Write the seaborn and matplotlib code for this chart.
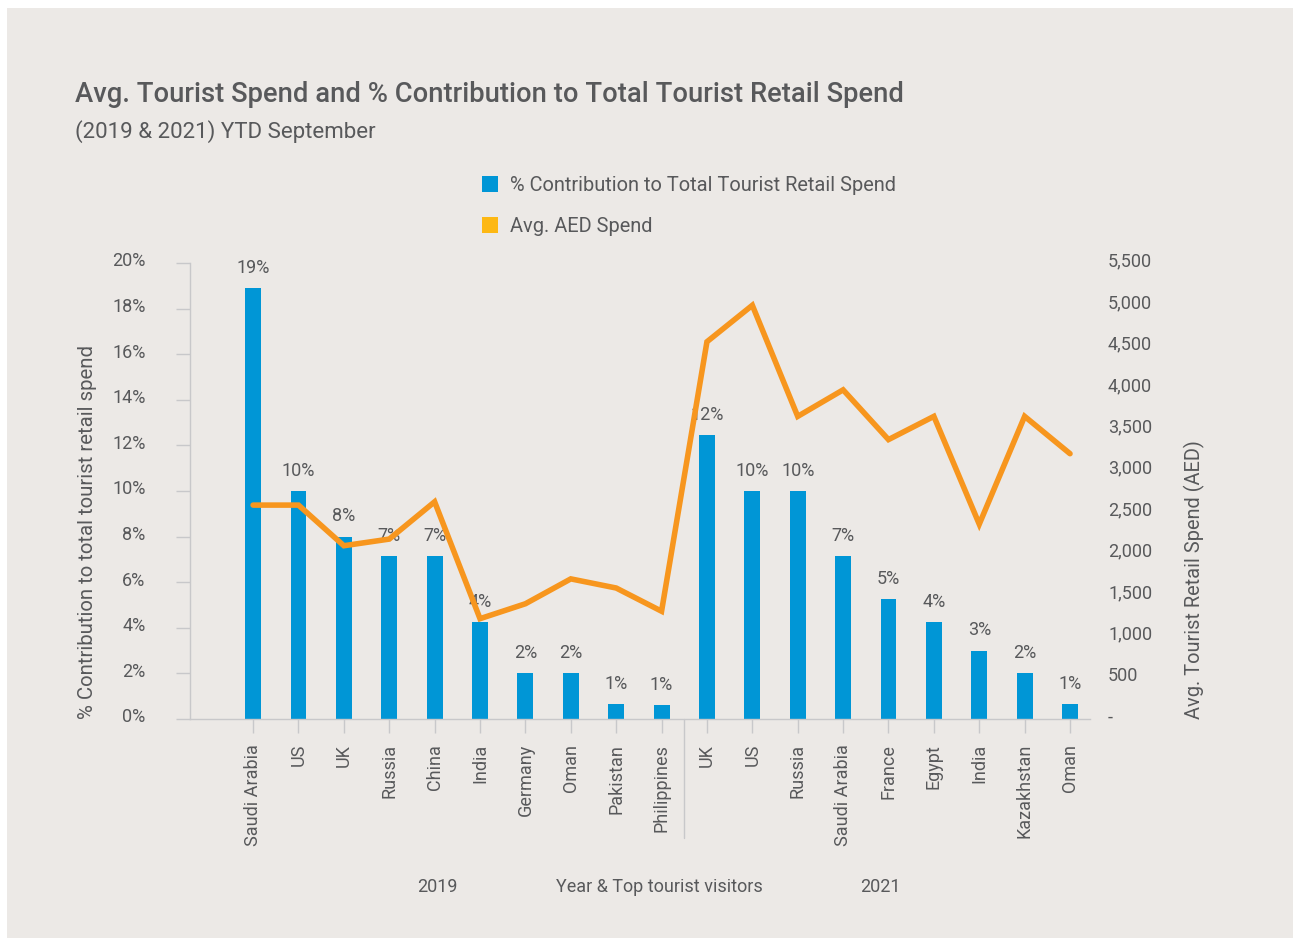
import matplotlib
matplotlib.use("Agg")
import matplotlib.pyplot as plt
import matplotlib.patches as mpatches
import matplotlib.ticker as mticker
import matplotlib.transforms as mtransforms
import seaborn as sns
import pandas as pd

# ---------------- data ----------------
countries_2019 = ["Saudi Arabia", "US", "UK", "Russia", "China", "India",
                  "Germany", "Oman", "Pakistan", "Philippines"]
countries_2021 = ["UK", "US", "Russia", "Saudi Arabia", "France", "Egypt",
                  "India", "Kazakhstan", "Oman"]
pct_2019 = [18.9, 10.0, 8.0, 7.15, 7.15, 4.25, 2.0, 2.0, 0.65, 0.6]
pct_2021 = [12.45, 10.0, 10.0, 7.15, 5.25, 4.25, 3.0, 2.0, 0.65]
aed_2019 = [2580, 2580, 2090, 2170, 2620, 1210, 1390, 1690, 1580, 1300]
aed_2021 = [4550, 4990, 3650, 3970, 3370, 3650, 2350, 3650, 3200]
years = ["2019", "2021"]
left_ticks = [0, 2, 4, 6, 8, 10, 12, 14, 16, 18, 20]
right_ticks = [0, 500, 1000, 1500, 2000, 2500, 3000, 3500, 4000, 4500, 5000, 5500]

title = "Avg. Tourist Spend and % Contribution to Total Tourist Retail Spend"
subtitle = "(2019 & 2021) YTD September"
bar_name = "% Contribution to Total Tourist Retail Spend"
line_name = "Avg. AED Spend"

df = pd.DataFrame({
    "year": [years[0]] * len(countries_2019) + [years[1]] * len(countries_2021),
    "country": countries_2019 + countries_2021,
    "pct": pct_2019 + pct_2021,
    "aed": aed_2019 + aed_2021,
})
df["key"] = df["year"] + "|" + df["country"]
df["pos"] = range(len(df))

# ---------------- style ----------------
BG = "#ECE9E6"
TXT = "#58595B"
BLUE = "#0096D6"
ORANGE = "#F7961E"
LEG_ORANGE = "#FDB813"
GRID = "#C8C8CA"

sns.set_theme(style="white")
plt.rcParams["font.family"] = ["Roboto", "DejaVu Sans"]
plt.rcParams["text.color"] = TXT
plt.rcParams["axes.labelcolor"] = TXT
plt.rcParams["xtick.color"] = TXT
plt.rcParams["ytick.color"] = TXT

fig = plt.figure(figsize=(12.93, 9.38), dpi=100, facecolor="white")
fig.patches.append(mpatches.Rectangle((7 / 1293, 0), 1, 1 - 8 / 938,
                                      transform=fig.transFigure,
                                      facecolor=BG, edgecolor="none", zorder=-10))

ax = fig.add_axes([190 / 1293, 1 - 719 / 938, 900 / 1293, 456 / 938])
ax.set_facecolor("none")

sns.barplot(data=df, x="key", y="pct", color=BLUE, width=0.35,
            saturation=1, ax=ax, order=list(df["key"]), linewidth=0,
            edgecolor="none")
ax.set_xlim(-1.39, len(df) - 1 + 0.44)
ax.set_ylim(0, 20)
ax.set_yticks(left_ticks)
ax.yaxis.set_major_formatter(mticker.FuncFormatter(lambda v, p: f"{v:.0f}%"))
ax.set_xticks(range(len(df)))
ax.set_xticklabels(df["country"], rotation=90)
ax.tick_params(axis="y", length=10, width=1, color=GRID, pad=22, labelsize=13)
ax.tick_params(axis="x", length=10, width=1, color=GRID, pad=8, labelsize=13,
               bottom=True)
for s in ["top", "right"]:
    ax.spines[s].set_visible(False)
for s in ["left", "bottom"]:
    ax.spines[s].set_color(GRID)
    ax.spines[s].set_linewidth(1)

for p, v in zip(ax.patches, df["pct"]):
    ax.annotate(f"{v:.0f}%", (p.get_x() + p.get_width() / 2, p.get_height()),
                xytext=(0, 8), textcoords="offset points", ha="center",
                va="bottom", fontsize=13, color=TXT, zorder=5)

ax.set_xlabel("")
ax.set_ylabel("% Contribution to total tourist retail spend", fontsize=14.7)
ax.yaxis.set_label_coords(-0.103, 0.41)

# separator between years
ax.plot([9.5, 9.5], [0, -(838 - 719) / 456], color=GRID, lw=1,
        transform=ax.get_xaxis_transform(), clip_on=False)

ax2 = ax.twinx()
sns.lineplot(data=df, x="pos", y="aed", color=ORANGE, lw=4, ax=ax2,
             solid_capstyle="round", solid_joinstyle="miter", zorder=4)
ax2.set_ylim(0, 5500 * 456 / 458)
ax2.set_yticks(right_ticks)
ax2.yaxis.set_major_formatter(mticker.FuncFormatter(
    lambda v, p: "-" if v == 0 else f"{v:,.0f}"))
ax2.tick_params(axis="y", length=0, pad=13, labelsize=13)
for s in ax2.spines.values():
    s.set_visible(False)
ax2.set_ylabel("Avg. Tourist Retail Spend (AED)", fontsize=14.4)
ax2.yaxis.set_label_coords(1.104, 0.305)
ax2.set_xlabel("")

# nudge y tick labels up slightly, as in the reference
shift = mtransforms.ScaledTranslation(0, 3.5 / 100, fig.dpi_scale_trans)
for lbl in ax.get_yticklabels():
    lbl.set_transform(lbl.get_transform() + shift)
for lbl in ax2.get_yticklabels():
    lbl.set_transform(lbl.get_transform() + shift)

# titles
fig.text(75 / 1293, 1 - 94 / 938, title, fontsize=19.7, fontweight="medium",
         ha="left", va="center", color=TXT)
fig.text(75 / 1293, 1 - 132 / 938, subtitle, fontsize=16, ha="left",
         va="center", color=TXT)

# group labels
fig.text(437 / 1293, 1 - 887 / 938, years[0], fontsize=13, ha="center", va="center")
fig.text(659 / 1293, 1 - 887 / 938, "Year & Top tourist visitors", fontsize=13,
         ha="center", va="center")
fig.text(880 / 1293, 1 - 887 / 938, years[1], fontsize=13, ha="center", va="center")

# legend
handles = [mpatches.Patch(facecolor=BLUE, edgecolor="none", label=bar_name),
           mpatches.Patch(facecolor=LEG_ORANGE, edgecolor="none", label=line_name)]
fig.legend(handles=handles, loc="upper left",
           bbox_to_anchor=(464 / 1293, 1 - 158 / 938), frameon=False,
           fontsize=14.4, handlelength=0.8, handleheight=0.8, handletextpad=0.6,
           labelspacing=1.1, labelcolor=TXT)

fig.savefig("out.png", dpi=100, facecolor=fig.get_facecolor())
